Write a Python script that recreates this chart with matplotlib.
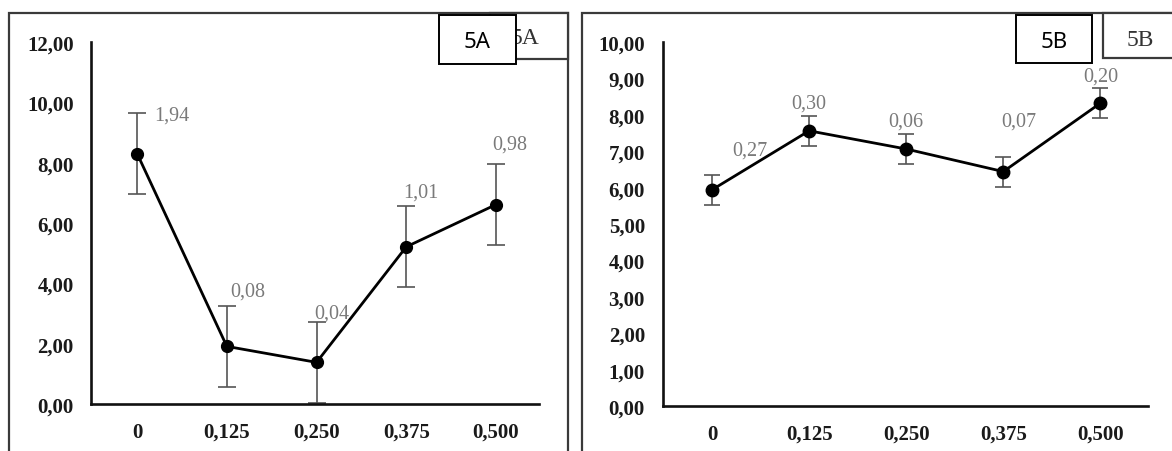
import matplotlib
matplotlib.use("Agg")
import matplotlib.pyplot as plt
from matplotlib.patches import Rectangle

# data
doses = ["0", "0,125", "0,250", "0,375", "0,500"]

a_mean = [8.30, 1.91, 1.38, 5.21, 6.61]
a_err = [1.34, 1.34, 1.34, 1.34, 1.34]
a_labels = ["1,94", "0,08", "0,04", "1,01", "0,98"]
a_ticks = [0, 2, 4, 6, 8, 10, 12]

b_mean = [5.94, 7.56, 7.06, 6.44, 8.32]
b_err = [0.41, 0.42, 0.40, 0.41, 0.42]
b_labels = ["0,27", "0,30", "0,06", "0,07", "0,20"]
b_ticks = [0, 1, 2, 3, 4, 5, 6, 7, 8, 9, 10]

W, H = 1172, 452
SERIF = "Liberation Serif"


def fx(x):
    return x / W


def fy(y):
    return 1 - y / H


def fmt(v):
    return f"{v:.2f}".replace(".", ",")


def frame(fig, x0, y0, x1, y1, ec="#3a3a3a", lw=1.6, z=1, fill=True):
    fig.patches.append(Rectangle((fx(x0), fy(y1)), fx(x1) - fx(x0), fy(y0) - fy(y1),
                                 transform=fig.transFigure, fill=fill, fc="white",
                                 ec=ec, lw=lw, zorder=z))


def panel(fig, rect, xlim, means, errs, labels, ticks, offsets, cap, ms, ypad):
    ax = fig.add_axes(rect)
    ax.set_facecolor("none")
    x = list(range(len(doses)))
    ax.errorbar(x, means, yerr=errs, fmt="none", ecolor="#555555", elinewidth=1.2,
                capsize=cap, capthick=1.2, zorder=2)
    ax.plot(x, means, color="black", lw=2.0, marker="o", ms=ms, zorder=3)
    for xi, m, lab, off in zip(x, means, labels, offsets):
        ax.annotate(lab, (xi, m), xytext=(off[0] * 0.72, off[1] * 0.72),
                    textcoords="offset points", ha="center", va="center",
                    fontsize=14.5, family=SERIF, color="#7a7a7a", zorder=4)
    ax.set_xlim(*xlim)
    ax.set_ylim(ticks[0], ticks[-1])
    ax.set_yticks(ticks)
    ax.set_yticklabels([fmt(t) for t in ticks])
    ax.set_xticks(x)
    ax.set_xticklabels(doses)
    for lab in ax.get_xticklabels() + ax.get_yticklabels():
        lab.set_fontfamily(SERIF)
        lab.set_fontweight("bold")
        lab.set_fontsize(15)
        lab.set_color("#1a1a1a")
    ax.tick_params(axis="both", length=0)
    ax.tick_params(axis="y", pad=ypad)
    ax.tick_params(axis="x", pad=13)
    for s in ["top", "right"]:
        ax.spines[s].set_visible(False)
    for s in ["left", "bottom"]:
        ax.spines[s].set_linewidth(1.9)
        ax.spines[s].set_color("#111111")
    return ax


fig = plt.figure(figsize=(W / 100, H / 100), dpi=100)

# outer frames, cut off at the bottom of the picture
frame(fig, 9, 14, 568, 470, fill=False)
frame(fig, 582, 14, 1190, 470, fill=False)

a_off = [(35, 39), (21, 55), (15, 49), (15, 55), (14, 61)]
b_off = [(38, 40), (0, 28), (0, 28), (15, 51), (0, 27)]

panel(fig, [fx(90.5), fy(405), fx(539) - fx(90.5), fy(43) - fy(405)],
      (-0.52, 4.48), a_mean, a_err, a_labels, a_ticks, a_off, 6.5, 8.5, 12)
panel(fig, [fx(663), fy(407), fx(1148) - fx(663), fy(43) - fy(407)],
      (-0.505, 4.49), b_mean, b_err, b_labels, b_ticks, b_off, 5.5, 9, 13)

# old serif panel tags, partly covered by the newer boxes
frame(fig, 490, 14, 568, 60, lw=1.6, z=5)
fig.text(fx(525), fy(39), "5A", family=SERIF, fontsize=17, ha="center", va="center",
         color="#333333", zorder=6)
frame(fig, 1103, 14, 1180, 59, lw=1.6, z=5)
fig.text(fx(1140), fy(40), "5B", family=SERIF, fontsize=17, ha="center", va="center",
         color="#333333", zorder=6)

# newer sans tags
frame(fig, 439, 16, 516, 65, ec="black", lw=1.4, z=7)
fig.text(fx(477), fy(42), "5A", family="Noto Sans", fontsize=16, ha="center", va="center",
         color="black", zorder=8)
frame(fig, 1016, 16, 1092, 64, ec="black", lw=1.4, z=7)
fig.text(fx(1054), fy(42), "5B", family="Noto Sans", fontsize=16, ha="center", va="center",
         color="black", zorder=8)

fig.savefig("out.png", dpi=100)
